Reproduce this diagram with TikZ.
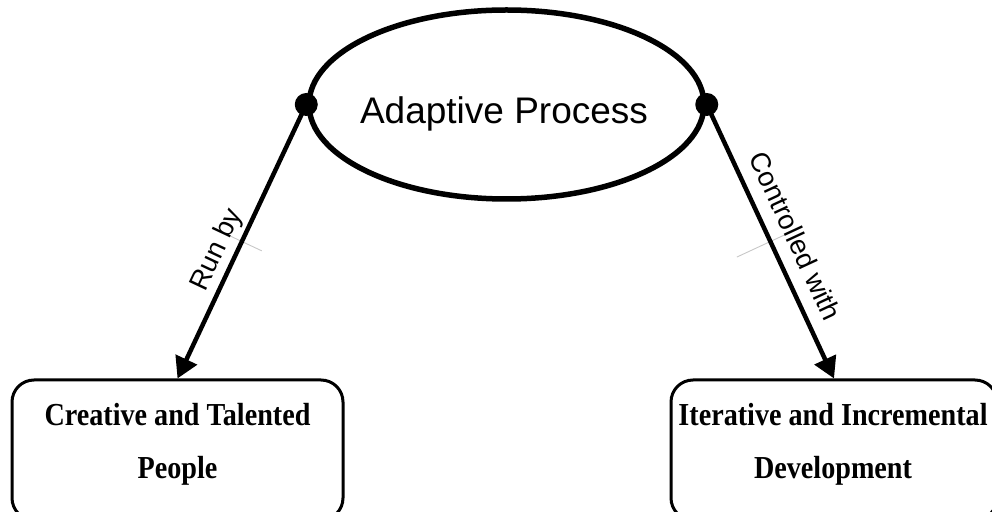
\documentclass[tikz,border=0pt]{standalone}
\usepackage{fontspec}
\newfontfamily\labelfont{Liberation Sans}
\newfontfamily\boxfont{Liberation Serif}[FakeStretch=0.88]
\usetikzlibrary{shapes.geometric,arrows.meta,calc}
\begin{document}
\begin{tikzpicture}[x=1pt,y=1pt,
  procshape/.style={ellipse, draw, line width=5.5pt, minimum width=395pt, minimum height=189pt, inner sep=0pt},
  titletext/.style={font=\labelfont\fontsize{37}{42}\selectfont, inner sep=0pt},
  joint/.style={circle, fill, inner sep=0pt, minimum size=23pt},
  outcome/.style={draw, rounded corners=22pt, line width=3pt, minimum height=140pt, inner sep=0pt},
  outcometext/.style={font=\boxfont\bfseries\fontsize{32}{53}\selectfont, align=center, inner sep=0pt},
  link/.style={line width=4.5pt, -{Triangle[length=21pt,width=23pt]}},
  linklabel/.style={font=\labelfont\fontsize{27.5}{32}\selectfont, sloped, inner sep=0pt},
  tickmark/.style={draw=black!22, line width=0.9pt}]
\clip (0,0) rectangle (992,511);
% central process
\node[procshape] (proc) at (506.5,406.5) {};
\node[titletext, anchor=base] (proctext) at (504,387.7) {Adaptive Process};
% outcome boxes
\node[outcome, minimum width=331pt] (boxL) at (177.5,61) {};
\node[outcome, minimum width=326pt] (boxR) at (834,61) {};
\node[outcometext] (textL) at (177.5,67) {Creative and Talented\\People};
\node[outcometext] (textR) at (833,67) {Iterative and Incremental\\Development};
% label ticks at the middle of each link
\coordinate (mL) at ($(proc.west)!0.5!(boxL.north)$);
\coordinate (mR) at ($(proc.east)!0.5!(boxR.north)$);
\draw[tickmark] ($(mL)!22pt!90:(boxL.north)$) -- ($(mL)!22pt!-90:(boxL.north)$);
\draw[tickmark] ($(mR)!18pt!90:(boxR.north)$) -- ($(mR)!37pt!-90:(boxR.north)$);
% links
\draw[link] (proc.west) -- node[linklabel, pos=0.56, above=3.5pt] (lblL) {Run by} (boxL.north);
\draw[link] (proc.east) -- node[linklabel, pos=0.519, above=13pt] (lblR) {Controlled with} (boxR.north);
\node[joint] (dotL) at (proc.west) {};
\node[joint] (dotR) at (proc.east) {};
\end{tikzpicture}
\end{document}
